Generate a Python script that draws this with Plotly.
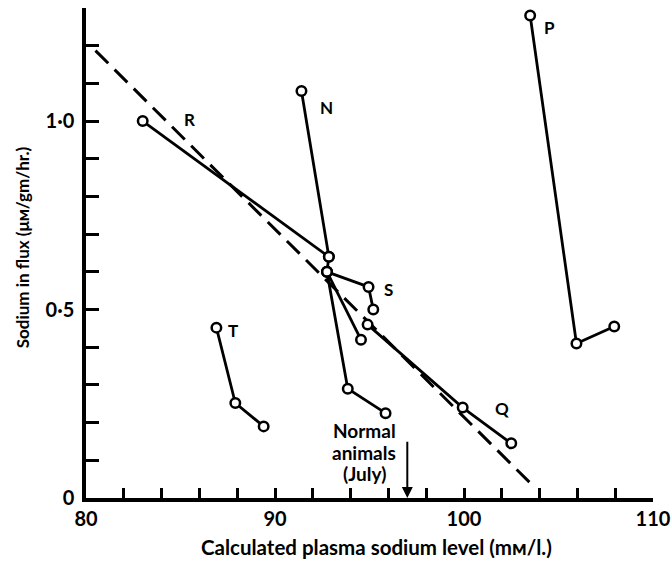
import plotly.graph_objects as go

# ---- data ----
R_x = [83.0, 92.85]
R_y = [1.00, 0.64]

N_x = [91.4, 92.85, 92.75, 93.85, 95.85]
N_y = [1.08, 0.64, 0.60, 0.29, 0.225]

S_x = [92.75, 94.95, 95.2]
S_y = [0.60, 0.56, 0.50]

U_x = [92.75, 94.55]
U_y = [0.60, 0.42]

Q_x = [94.9, 99.93, 102.5]
Q_y = [0.46, 0.24, 0.145]

P_x = [103.5, 105.95, 107.95]
P_y = [1.28, 0.41, 0.455]

T_x = [86.9, 87.9, 89.4]
T_y = [0.452, 0.252, 0.19]

fit_x = [80.5, 103.7]
fit_y = [1.187, 0.03]

labels = ["R", "N", "P", "S", "T", "Q"]
label_x = [85.5, 92.7, 104.5, 96.0, 87.8, 102.0]
label_y = [1.004, 1.035, 1.248, 0.553, 0.445, 0.237]

normal_x = 97.0
normal_lines = ["Normal", "animals", "(July)"]
normal_line_y = [0.180, 0.121, 0.066]

x_tickvals = list(range(80, 111, 2))
x_ticktext = [str(v) if v % 10 == 0 else "" for v in x_tickvals]
y_tickvals = [round(i * 0.1, 1) for i in range(0, 14)]
y_ticktext = {0.0: "0", 0.5: "0·5", 1.0: "1·0"}
y_ticktext_list = [y_ticktext.get(v, "") for v in y_tickvals]

FONT = "Lato"

fig = go.Figure()

fig.add_trace(go.Scatter(
    x=fit_x, y=fit_y, mode="lines",
    line=dict(color="black", width=3, dash="18px,9px"),
    showlegend=False, hoverinfo="skip"))

for xs, ys in [(R_x, R_y), (N_x, N_y), (S_x, S_y), (U_x, U_y),
               (Q_x, Q_y), (P_x, P_y), (T_x, T_y)]:
    fig.add_trace(go.Scatter(
        x=xs, y=ys, mode="lines+markers",
        line=dict(color="black", width=2.8),
        marker=dict(symbol="circle", size=9.5, color="white",
                    line=dict(color="black", width=2.5)),
        showlegend=False, cliponaxis=False))

for t, lx, ly in zip(labels, label_x, label_y):
    fig.add_annotation(x=lx, y=ly, text=t, showarrow=False,
                       font=dict(family=FONT, size=17, color="black", weight="bold"))

fig.add_annotation(x=normal_x, y=0, ax=normal_x, ay=0.153,
                   xref="x", yref="y", axref="x", ayref="y",
                   showarrow=True, arrowhead=2, arrowsize=1.1, arrowwidth=2,
                   arrowcolor="black", text="")
for t, ly in zip(normal_lines, normal_line_y):
    fig.add_annotation(x=94.73, y=ly, text=t, showarrow=False,
                       yanchor="middle", xanchor="center",
                       font=dict(family=FONT, size=19, color="black", weight="bold"))

# axis titles
fig.add_annotation(xref="paper", yref="paper", x=0.5115, y=-0.1006,
                   text="Calculated plasma sodium level (mᴍ/l.)", showarrow=False,
                   xanchor="center", yanchor="middle",
                   font=dict(family=FONT, size=20.5, color="black", weight="bold"))
fig.add_annotation(xref="paper", yref="paper", x=-0.1129, y=0.5116,
                   text="Sodium in flux (μᴍ/gm/hr.)", showarrow=False,
                   textangle=-90, xanchor="center", yanchor="middle",
                   font=dict(family=FONT, size=17, color="black", weight="bold"))

fig.update_layout(
    width=671, height=563,
    margin=dict(l=86, r=18, t=8, b=65, autoexpand=False),
    plot_bgcolor="white", paper_bgcolor="white",
    font=dict(family=FONT, color="black"),
    xaxis=dict(range=[80, 110], showgrid=False, zeroline=False, automargin=False,
               showline=True, linecolor="black", linewidth=3.5,
               ticks="inside", ticklen=10, tickwidth=2.5, tickcolor="black",
               tickvals=x_tickvals, ticktext=x_ticktext,
               tickfont=dict(family=FONT, size=20, weight="bold")),
    yaxis=dict(range=[0, 1.3], showgrid=False, zeroline=False, automargin=False,
               showline=True, linecolor="black", linewidth=3.5,
               ticks="inside", ticklen=13, tickwidth=2.5, tickcolor="black",
               tickvals=y_tickvals, ticktext=y_ticktext_list,
               ticklabelstandoff=4,
               tickfont=dict(family=FONT, size=20, weight="bold")),
)

fig.write_html("out.html", config={"displayModeBar": False},
               post_script="document.body.style.margin='0';document.body.style.overflow='hidden';")
